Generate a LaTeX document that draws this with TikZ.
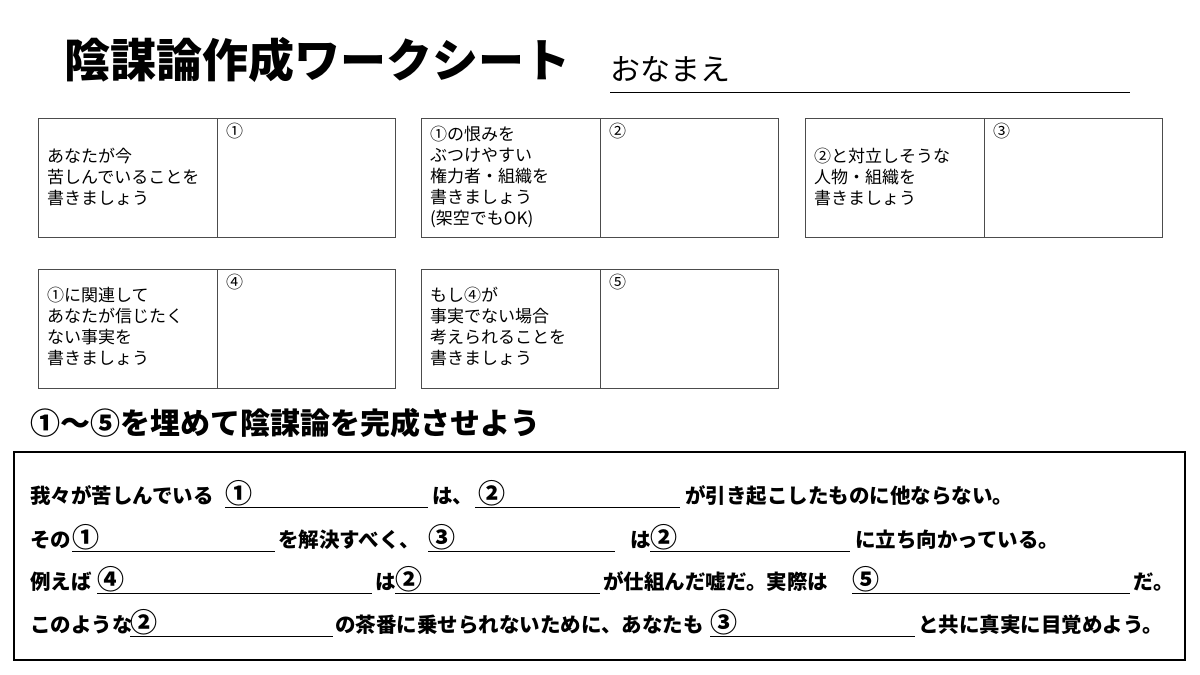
\documentclass[tikz,border=0pt]{standalone}
\usepackage{fontspec}
\newfontfamily\jp{Noto Sans CJK JP}
\begin{document}
\begin{tikzpicture}[x=1pt,y=-1pt,
  box/.style={draw=black!70,line width=0.8pt},
  lbl/.style={font=\jp\fontsize{17}{21}\selectfont,align=left,anchor=west,inner sep=0pt},
  num/.style={font=\jp\fontsize{17}{18}\selectfont,anchor=north west,inner sep=0pt},
  st/.style={font=\jp\bfseries\fontsize{20.5}{22}\selectfont,anchor=base west,inner sep=0pt},
  cn/.style={font=\jp\bfseries\fontsize{27}{28}\selectfont,anchor=base west,inner sep=0pt},
  ul/.style={line width=0.9pt}]
\useasboundingbox (0,0) rectangle (1200,675);
\fill[white] (0,0) rectangle (1200,675);
\node[font=\jp\bfseries\fontsize{46}{50}\selectfont,anchor=base west,inner sep=0pt] (title) at (64,77) {陰謀論作成ワークシート};
\node[font=\jp\fontsize{30}{32}\selectfont,anchor=base west,inner sep=0pt] (name) at (610,80) {おなまえ};
\draw[line width=0.8pt] (610,92) -- (1130,92);
% row 1
\foreach \x in {38,421,805}{
  \draw[box] (\x,118) rectangle ++(357,119);
  \draw[box] (\x+179,118) -- (\x+179,237);}
\foreach \x in {38,421}{
  \draw[box] (\x,269) rectangle ++(357,119);
  \draw[box] (\x+179,269) -- (\x+179,388);}
\node[lbl] (t1) at (47,177) {あなたが今\\苦しんでいることを\\書きましょう};
\node[num] (n1) at (226,123) {①};
\node[lbl] (t2) at (430,177) {①の恨みを\\ぶつけやすい\\権力者・組織を\\書きましょう\\(架空でもOK)};
\node[num] (n2) at (609,123) {②};
\node[lbl] (t3) at (814,177) {②と対立しそうな\\人物・組織を\\書きましょう};
\node[num] (n3) at (993,123) {③};
\node[lbl] (t4) at (47,327) {①に関連して\\あなたが信じたく\\ない事実を\\書きましょう};
\node[num] (n4) at (226,274) {④};
\node[lbl] (t5) at (430,327) {もし④が\\事実でない場合\\考えられることを\\書きましょう};
\node[num] (n5) at (609,274) {⑤};
\node[font=\jp\bfseries\fontsize{30}{32}\selectfont,anchor=base west,inner sep=0pt] (head) at (30,434) {①〜⑤を埋めて陰謀論を完成させよう};
\draw[line width=2pt] (14,452) rectangle (1185,660);
% line 1
\node[st] (a1) at (30,503) {我々が苦しんでいる};
\node[cn] (a2) at (225,503) {①}; \draw[ul] (225,507) -- (428,507);
\node[st] (a3) at (432,503) {は、};
\node[cn] (a4) at (478,503) {②}; \draw[ul] (475,507) -- (680,507);
\node[st] (a5) at (685,503) {が引き起こしたものに他ならない。};
% line 2
\node[st] (b1) at (30,547) {その};
\node[cn] (b2) at (72,547) {①}; \draw[ul] (72,551) -- (275,551);
\node[st] (b3) at (278,547) {を解決すべく、};
\node[cn] (b4) at (428,547) {③}; \draw[ul] (428,551) -- (615,551);
\node[st] (b5) at (630,547) {は};
\node[cn] (b6) at (650,547) {②}; \draw[ul] (650,551) -- (850,551);
\node[st] (b7) at (855,547) {に立ち向かっている。};
% line 3
\node[st] (c1) at (30,589) {例えば};
\node[cn] (c2) at (97,589) {④}; \draw[ul] (97,593) -- (372,593);
\node[st] (c3) at (375,589) {は};
\node[cn] (c4) at (395,589) {②}; \draw[ul] (395,593) -- (600,593);
\node[st] (c5) at (603,589) {が仕組んだ嘘だ。実際は};
\node[cn] (c6) at (852,589) {⑤}; \draw[ul] (852,593) -- (1130,593);
\node[st] (c7) at (1133,589) {だ。};
% line 4
\node[st] (d1) at (30,632) {このような};
\node[cn] (d2) at (130,632) {②}; \draw[ul] (130,636) -- (333,636);
\node[st] (d3) at (335,632) {の茶番に乗せられないために、あなたも};
\node[cn] (d4) at (710,632) {③}; \draw[ul] (710,636) -- (915,636);
\node[st] (d5) at (918,632) {と共に真実に目覚めよう。};
\end{tikzpicture}
\end{document}
